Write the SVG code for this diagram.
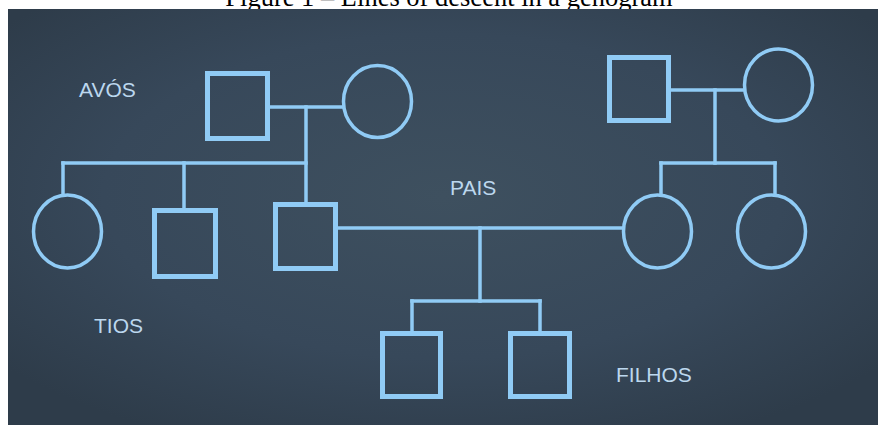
<svg xmlns="http://www.w3.org/2000/svg" width="878" height="425" viewBox="0 0 878 425">
  <defs>
    <radialGradient id="bg" cx="0.5" cy="0.45" r="0.65">
      <stop offset="0" stop-color="#3e505f"/>
      <stop offset="0.6" stop-color="#37485a"/>
      <stop offset="1" stop-color="#2e3c4a"/>
    </radialGradient>
    <style>
      .sq { fill: none; stroke: #90cbf5; stroke-width: 5; }
      .ci { fill: none; stroke: #90cbf5; stroke-width: 3.5; }
      .ln { fill: none; stroke: #90cbf5; stroke-width: 3.5; stroke-linecap: square; }
      .lbl { font-family: "Liberation Sans", Arial, sans-serif; font-size: 21px; fill: #bcd7ee; }
      .title { font-family: "Liberation Serif", "Times New Roman", serif; font-size: 26.5px; fill: #000; }
    </style>
  </defs>
  <rect x="0" y="0" width="878" height="425" fill="#ffffff"/>
  <text class="title" x="449" y="6" text-anchor="middle">Figure 1 – Lines of descent in a genogram</text>
  <rect x="8" y="9" width="870" height="416" fill="url(#bg)"/>

  <g id="connectors">
    <line class="ln" x1="270" y1="107" x2="342" y2="107"/>
    <line class="ln" x1="306" y1="107" x2="306" y2="204"/>
    <line class="ln" x1="63" y1="163" x2="306" y2="163"/>
    <line class="ln" x1="63" y1="163" x2="63" y2="195"/>
    <line class="ln" x1="184" y1="163" x2="184" y2="210"/>
    <line class="ln" x1="671" y1="90" x2="743" y2="90"/>
    <line class="ln" x1="715" y1="90" x2="715" y2="163"/>
    <line class="ln" x1="661" y1="163" x2="775" y2="163"/>
    <line class="ln" x1="661" y1="163" x2="661" y2="195"/>
    <line class="ln" x1="775" y1="163" x2="775" y2="195"/>
    <line class="ln" x1="338" y1="228" x2="622" y2="228"/>
    <line class="ln" x1="480" y1="228" x2="480" y2="301"/>
    <line class="ln" x1="412" y1="301" x2="540" y2="301"/>
    <line class="ln" x1="412" y1="301" x2="412" y2="333"/>
    <line class="ln" x1="540" y1="301" x2="540" y2="333"/>
  </g>

  <g id="avo-paterno"><rect class="sq" x="207.5" y="73.5" width="60" height="65"/></g>
  <g id="avo-paterna"><ellipse class="ci" cx="377.5" cy="101.5" rx="34" ry="36"/></g>
  <g id="tia"><ellipse class="ci" cx="67.5" cy="231.5" rx="34" ry="36.5"/></g>
  <g id="tio"><rect class="sq" x="154.5" y="210.5" width="61" height="66"/></g>
  <g id="pai"><rect class="sq" x="275.5" y="204.5" width="60" height="64"/></g>
  <g id="avo-materno"><rect class="sq" x="609.5" y="57.5" width="59" height="63"/></g>
  <g id="avo-materna"><ellipse class="ci" cx="778.5" cy="85" rx="34" ry="36"/></g>
  <g id="mae"><ellipse class="ci" cx="657.5" cy="231.5" rx="34" ry="36.5"/></g>
  <g id="tia-materna"><ellipse class="ci" cx="771.5" cy="231.5" rx="34" ry="36.5"/></g>
  <g id="filho-1"><rect class="sq" x="382.5" y="333.5" width="58" height="63"/></g>
  <g id="filho-2"><rect class="sq" x="510.5" y="333.5" width="59" height="63"/></g>

  <g id="labels">
    <text class="lbl" x="79" y="97">AVÓS</text>
    <text class="lbl" x="450" y="195">PAIS</text>
    <text class="lbl" x="94" y="333">TIOS</text>
    <text class="lbl" x="616" y="382">FILHOS</text>
  </g>
</svg>
